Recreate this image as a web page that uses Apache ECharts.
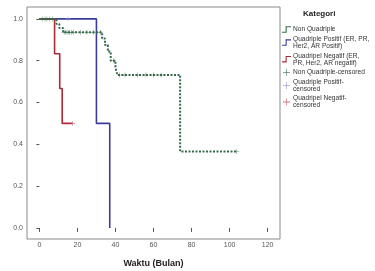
<!DOCTYPE html>
<html>
<head>
<meta charset="utf-8">
<script src="https://cdn.jsdelivr.net/npm/echarts@6/dist/echarts.min.js"></script>
<style>
  html, body { margin: 0; padding: 0; background: #fff; }
  #chart { width: 375px; height: 271px; }
</style>
</head>
<body>
<div id="chart"></div>
<script>
// step points of each Kaplan-Meier curve (months, cum survival)
const nonQuadTime = [0, 9, 10.5, 12.5, 33, 34.5, 36, 37.5, 40, 41, 74, 103.7];
const nonQuadSurv = [1, 0.976, 0.957, 0.936, 0.906, 0.875, 0.844, 0.8, 0.766, 0.732, 0.366, 0.366];
const posTime = [0, 30, 37];
const posSurv = [1, 0.5, 0];
const negTime = [0, 8, 10.7, 12, 17.4];
const negSurv = [1, 0.833, 0.667, 0.5, 0.5];

// censored observations
const nonQuadCensTime = [1.5, 3, 4, 5.5, 7, 13, 14, 15, 16, 17, 18, 21.5, 25, 28.5, 32, 39, 42, 45, 51.5, 56, 60, 64, 103.7];
const nonQuadCensSurv = [1, 1, 1, 1, 1, 0.936, 0.936, 0.936, 0.936, 0.936, 0.936, 0.936, 0.936, 0.936, 0.936, 0.8, 0.732, 0.732, 0.732, 0.732, 0.732, 0.732, 0.366];
const posCensTime = [15];
const posCensSurv = [1];
const negCensTime = [17.4];
const negCensSurv = [0.5];

const xTicks = [0, 20, 40, 60, 80, 100, 120];
const yTicks = [0, 0.2, 0.4, 0.6, 0.8, 1.0];

const names = [
  'Non Quadriple',
  'Quadriple Positif (ER, PR, Her2, AR Positif)',
  'Quadripel Negatif (ER, PR, Her2, AR negatif)',
  'Non Quadriple-censored',
  'Quadriple Positif-censored',
  'Quadripel Negatif-censored'
];
const legendText = {
  'Quadriple Positif (ER, PR, Her2, AR Positif)': 'Quadriple Positif (ER, PR,\nHer2, AR Positif)',
  'Quadripel Negatif (ER, PR, Her2, AR negatif)': 'Quadripel Negatif (ER,\nPR, Her2, AR negatif)',
  'Quadriple Positif-censored': 'Quadriple Positif-\ncensored',
  'Quadripel Negatif-censored': 'Quadripel Negatif-\ncensored'
};

const green = '#356b4a';
const blue = '#3c3c9c';
const red = '#aa2a38';

const zip = (xs, ys) => xs.map((x, i) => [x, ys[i]]);
const cross = 'path://M0,4.4H10V5.6H0Z M4.5,0H5.5V10H4.5Z';
const stepIcon = 'path://M0,7H4V1H10V2.2H5.2V8.2H0Z';

const chart = echarts.init(document.getElementById('chart'), null, { renderer: 'canvas' });

const curve = (name, data, color, type) => ({
  name: name,
  type: 'line',
  step: 'end',
  data: data,
  symbol: 'none',
  itemStyle: { color: color },
  lineStyle: { color: color, width: type ? 2 : 1.6, type: type || 'solid' },
  z: 2
});
const censor = (name, data, color) => ({
  name: name,
  type: 'scatter',
  data: data,
  symbol: cross,
  symbolSize: 5,
  itemStyle: { color: color },
  z: 3
});

chart.setOption({
  backgroundColor: '#fff',
  animation: false,
  textStyle: { fontFamily: 'Arial, "Liberation Sans", sans-serif' },
  title: {
    text: 'Kategori',
    left: 303,
    top: 10,
    padding: 0,
    textStyle: { fontSize: 8, fontWeight: 'bold', color: '#222' }
  },
  legend: {
    orient: 'vertical',
    left: 282,
    top: 26,
    padding: 0,
    itemWidth: 9,
    itemHeight: 7,
    itemGap: 2.6,
    selectedMode: false,
    textStyle: { fontSize: 6.6, lineHeight: 7, color: '#333', padding: [0, 0, 0, -3] },
    formatter: (n) => legendText[n] || n,
    data: [
      { name: names[0], icon: stepIcon },
      { name: names[1], icon: stepIcon },
      { name: names[2], icon: stepIcon },
      { name: names[3], icon: cross },
      { name: names[4], icon: cross },
      { name: names[5], icon: cross }
    ]
  },
  grid: {
    left: 27,
    right: 95,
    top: 7,
    bottom: 32,
    outerBoundsMode: 'none',
    show: true,
    borderColor: '#8a8a8a',
    borderWidth: 1
  },
  xAxis: {
    type: 'value',
    min: -6.5,
    max: 126.5,
    name: 'Waktu (Bulan)',
    nameLocation: 'middle',
    nameGap: 20,
    nameTextStyle: { fontSize: 9, fontWeight: 'bold', color: '#222' },
    axisLine: { show: false },
    axisTick: { show: true, length: 4, customValues: xTicks, lineStyle: { color: '#555' } },
    axisLabel: { fontSize: 7, color: '#555', margin: 3, customValues: xTicks },
    splitLine: { show: false }
  },
  yAxis: {
    type: 'value',
    min: -0.053,
    max: 1.057,
    name: 'Cum Survival',
    nameLocation: 'middle',
    nameGap: 15,
    nameTextStyle: { fontSize: 9, fontWeight: 'bold', color: '#222' },
    offset: 2,
    axisLine: { show: false },
    axisTick: { show: true, length: 3, customValues: yTicks, lineStyle: { color: '#555' } },
    axisLabel: { fontSize: 7, color: '#555', margin: 2, customValues: yTicks, formatter: (v) => v.toFixed(1) },
    splitLine: { show: false }
  },
  series: [
    curve(names[1], zip(posTime, posSurv), blue),
    curve(names[2], zip(negTime, negSurv), red),
    curve(names[0], zip(nonQuadTime, nonQuadSurv), green, [2, 1.5]),
    censor(names[3], zip(nonQuadCensTime, nonQuadCensSurv), green),
    censor(names[4], zip(posCensTime, posCensSurv), '#8c8cc4'),
    censor(names[5], zip(negCensTime, negCensSurv), '#c05060')
  ]
});
</script>
</body>
</html>
